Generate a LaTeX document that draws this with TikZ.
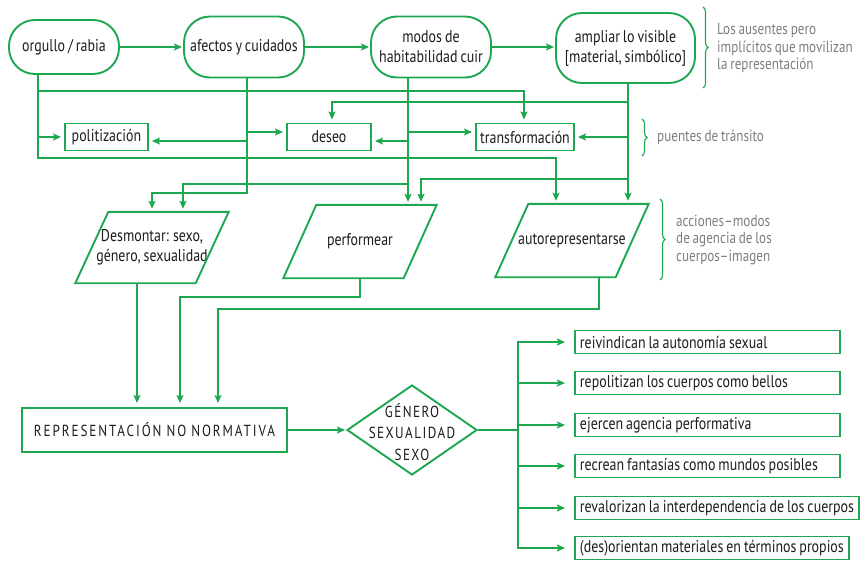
\documentclass[tikz,border=0pt]{standalone}
\usepackage{fontspec}
\setmainfont{PT Sans}[FakeStretch=0.82,WordSpace=0.8]
\usetikzlibrary{shapes.geometric,arrows.meta,calc,decorations.pathreplacing}
\definecolor{gr}{RGB}{29,167,80}
\definecolor{gy}{RGB}{125,125,125}
\definecolor{tx}{RGB}{28,28,28}
\begin{document}
\begin{tikzpicture}[x=1pt,y=-1pt,
  line/.style={draw=gr,line width=1.9pt},
  arr/.style={line,-{Stealth[length=8pt,width=7pt,inset=1.5pt]},shorten >=3pt},
  txt/.style={text=tx,font=\fontsize{17}{20}\selectfont,align=center,inner sep=0pt},
  stad/.style={txt,draw=gr,line width=1.9pt,rounded corners=26pt},
  box/.style={txt,draw=gr,line width=1.9pt},
  para/.style={txt,minimum width=120pt},
  rbox/.style={txt,draw=gr,line width=1.9pt,align=flush left,inner xsep=5pt,minimum height=23pt,anchor=west},
  gtext/.style={text=gy,font=\fontsize{16}{17.5}\selectfont,align=left,inner sep=0pt,anchor=west},
  brc/.style={draw=gr,line width=1.1pt,decorate,decoration={brace,amplitude=5pt}}
]
\useasboundingbox (0,0) rectangle (867,560);

% top row
\node[stad,minimum width=110pt,minimum height=54pt] (org) at (64,47) {orgullo / rabia};
\node[stad,minimum width=120pt,minimum height=61pt] (afe) at (244,47) {afectos y cuidados};
\node[stad,minimum width=120pt,minimum height=61pt] (mod) at (431,47) {modos de\\habitabilidad cuir};
\node[stad,minimum width=139pt,minimum height=70pt] (amp) at (625.5,48) {ampliar lo visible\\{[}material, simbólico{]}};

% middle row
\node[box,minimum width=83pt,minimum height=27pt] (pol) at (106.5,137) {politización};
\node[box,minimum width=84pt,minimum height=27pt] (des) at (329,137) {deseo};
\node[box,minimum width=98pt,minimum height=27pt] (tra) at (525,137) {transformación};

% parallelograms
\node[para,minimum height=71pt] (dsm) at (152,247.5) {Desmontar: sexo,\\género, sexualidad};
\node[para,minimum height=73pt] (prf) at (360,241.5) {performear};
\node[para,minimum height=73pt] (aut) at (572,240.5) {autorepresentarse};
\foreach \p in {dsm,prf,aut}{
  \draw[line] ([xshift=16.5pt]\p.north west) -- ([xshift=16.5pt]\p.north east)
    -- ([xshift=-16.5pt]\p.south east) -- ([xshift=-16.5pt]\p.south west) -- cycle;
}

% bottom
\node[box,minimum width=265pt,minimum height=44pt,
  font=\addfontfeatures{LetterSpace=12}\fontsize{16}{19}\selectfont] (rep) at (154.5,430) {REPRESENTACIÓN\hspace{5pt}NO\hspace{5pt}NORMATIVA};
\node[draw=gr,line width=1.9pt,diamond,minimum width=130pt,minimum height=90pt,inner sep=0pt] (dia) at (412,430) {};
\node[txt,font=\addfontfeatures{LetterSpace=9}\fontsize{16}{21.5}\selectfont] (diat) at (412,432) {GÉNERO\\SEXUALIDAD\\SEXO};

\node[rbox,text width=255pt] (r1) at (574,342) {reivindican la autonomía sexual};
\node[rbox,text width=255pt] (r2) at (574,383) {repolitizan los cuerpos como bellos};
\node[rbox,text width=255pt] (r3) at (574,425) {ejercen agencia performativa};
\node[rbox,text width=255pt] (r4) at (574,466) {recrean fantasías como mundos posibles};
\node[rbox] (r5) at (574,508) {revalorizan la interdependencia de los cuerpos};
\node[rbox] (r6) at (574,548) {(des)orientan materiales en términos propios};

% gray notes
\node[gtext] (g1) at (717,48) {Los ausentes pero\\implícitos que movilizan\\la representación};
\node[gtext] (g2) at (657,137.5) {puentes de tránsito};
\node[gtext] (g3) at (676,240) {acciones–modos\\de agencia de los\\cuerpos–imagen};
\draw[brc] (703,7) -- (703,88);
\draw[brc] (642,119) -- (642,156);
\draw[brc] (660,199) -- (660,280);

% top row arrows
\draw[arr,shorten >=1pt] (org.east) -- (afe.west |- org.east);
\draw[arr,shorten >=1pt] (afe.east) -- (mod.west);
\draw[arr,shorten >=1pt] (mod.east) -- (amp.west |- mod.east);

% from orgullo
\draw[arr] ([xshift=-26pt]org.south) |- (pol.west);
\draw[arr] ([xshift=-26pt]org.south) -- ([xshift=-26pt,yshift=-16pt]org.south) -| ([xshift=-1pt]tra.north);
\draw[arr] ([xshift=-26pt]org.south) |- ([xshift=-16pt,yshift=46pt]aut.north) -- ([xshift=-16pt]aut.north);

% from afectos
\draw[arr] ([xshift=3pt]afe.south) |- ([yshift=5pt]des.west);
\draw[arr] ([xshift=3pt]afe.south) |- ([yshift=-4pt]pol.east);
\draw[arr] ([xshift=3pt]afe.south) |- ([yshift=19pt]dsm.north) -- (dsm.north);

% from modos
\draw[arr] ([xshift=-23pt]mod.south) |- ([yshift=5pt]tra.west);
\draw[arr] ([xshift=-23pt]mod.south) |- ([yshift=-4pt]des.east);
\draw[arr] ([xshift=-23pt]mod.south) |- ([xshift=31pt,yshift=28pt]dsm.north) -- ([xshift=31pt]dsm.north);
\draw[arr] ([xshift=-23pt]mod.south) -- ([xshift=-23pt]mod.south |- prf.north);

% from ampliar
\draw[arr] ([xshift=2.5pt]amp.south) |- ([xshift=3pt,yshift=21pt]des.north) -- ([xshift=3pt]des.north);
\draw[arr] ([xshift=2.5pt]amp.south) |- (tra.east);
\draw[arr] ([xshift=2.5pt]amp.south) |- ([xshift=61pt,yshift=26pt]prf.north) -- ([xshift=61pt]prf.north);
\draw[arr] ([xshift=2.5pt]amp.south) -- ([xshift=2.5pt]amp.south |- aut.north);

% to representación
\draw[arr,shorten >=4pt] ([xshift=-15pt]dsm.south) -- ([xshift=-15pt]dsm.south |- rep.north);
\draw[arr,shorten >=4pt] (prf.south) -- ([yshift=-19pt]prf.south) -| ([xshift=25.5pt]rep.north);
\draw[arr,shorten >=4pt] ([xshift=27pt]aut.south) -- ([xshift=27pt,yshift=-32pt]aut.south) -| ([xshift=63.5pt]rep.north);

% to diamond and outcomes
\draw[arr,shorten >=1pt] (rep.east) -- (dia.west);
\coordinate (tr) at ([xshift=40pt]dia.east);
\draw[line] (dia.east) -- (tr);
\foreach \r in {r1,r2,r3,r4,r5,r6}{
  \draw[arr,shorten >=9pt] (tr) |- (\r.west);
}
\end{tikzpicture}
\end{document}
